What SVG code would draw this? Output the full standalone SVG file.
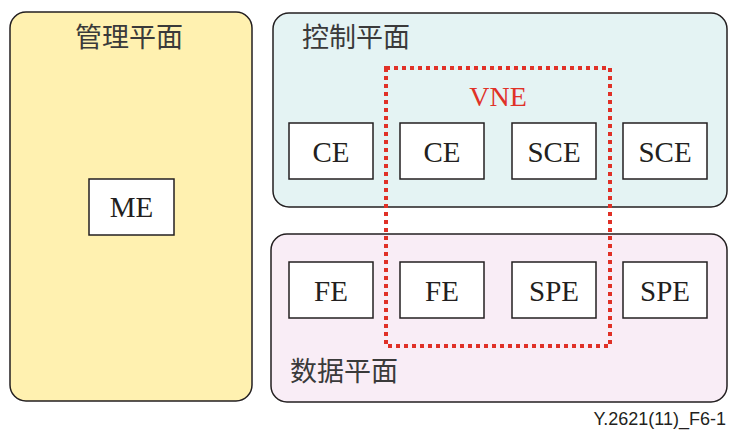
<svg xmlns="http://www.w3.org/2000/svg" width="729" height="430" viewBox="0 0 729 430">
<style>
.plane{stroke:#231f20;stroke-width:1.5}
.box{fill:#fff;stroke:#231f20;stroke-width:1.5}
.lbl{font-family:"Liberation Serif","Times New Roman",serif;font-size:29px;fill:#231f20;text-anchor:middle}
.cn{font-family:"Noto Sans CJK SC",sans-serif;font-size:27px;fill:#3a3a3a}
</style>
<g id="management-plane">
<rect class="plane" x="10" y="12" width="242" height="389" rx="16" fill="#fff1b0"/>
<text class="cn" x="129" y="47" text-anchor="middle">管理平面</text>
</g>
<g id="control-plane">
<rect class="plane" x="273" y="13" width="454" height="194" rx="16" fill="#e4f3f3"/>
<text class="cn" x="302" y="47">控制平面</text>
</g>
<g id="data-plane">
<rect class="plane" x="271" y="234" width="456" height="168" rx="16" fill="#f9edf6"/>
<text class="cn" x="290" y="381">数据平面</text>
</g>
<g id="ME"><rect class="box" x="89" y="179" width="85" height="56"/><text class="lbl" x="131.5" y="217">ME</text></g>
<g id="CE1"><rect class="box" x="289" y="123" width="84" height="56"/><text class="lbl" x="331" y="162">CE</text></g>
<g id="CE2"><rect class="box" x="400" y="123" width="84" height="56"/><text class="lbl" x="442" y="162">CE</text></g>
<g id="SCE1"><rect class="box" x="512" y="123" width="84" height="56"/><text class="lbl" x="554" y="162">SCE</text></g>
<g id="SCE2"><rect class="box" x="623" y="123" width="84" height="56"/><text class="lbl" x="665" y="162">SCE</text></g>
<g id="FE1"><rect class="box" x="289" y="262" width="84" height="56"/><text class="lbl" x="331" y="301">FE</text></g>
<g id="FE2"><rect class="box" x="400" y="262" width="84" height="56"/><text class="lbl" x="442" y="301">FE</text></g>
<g id="SPE1"><rect class="box" x="512" y="262" width="84" height="56"/><text class="lbl" x="554" y="301">SPE</text></g>
<g id="SPE2"><rect class="box" x="623" y="262" width="84" height="56"/><text class="lbl" x="665" y="301">SPE</text></g>
<g id="VNE">
<rect x="386" y="68" width="224" height="278" fill="none" stroke="#e03127" stroke-width="4" stroke-dasharray="4 4"/>
<text x="498" y="106" font-family="Liberation Serif,serif" font-size="28" fill="#e03127" text-anchor="middle">VNE</text>
</g>
<g id="connectors"/>
<text x="726" y="425" font-family="Liberation Sans,Arial,sans-serif" font-size="18" fill="#231f20" text-anchor="end">Y.2621(11)_F6-1</text>
</svg>
